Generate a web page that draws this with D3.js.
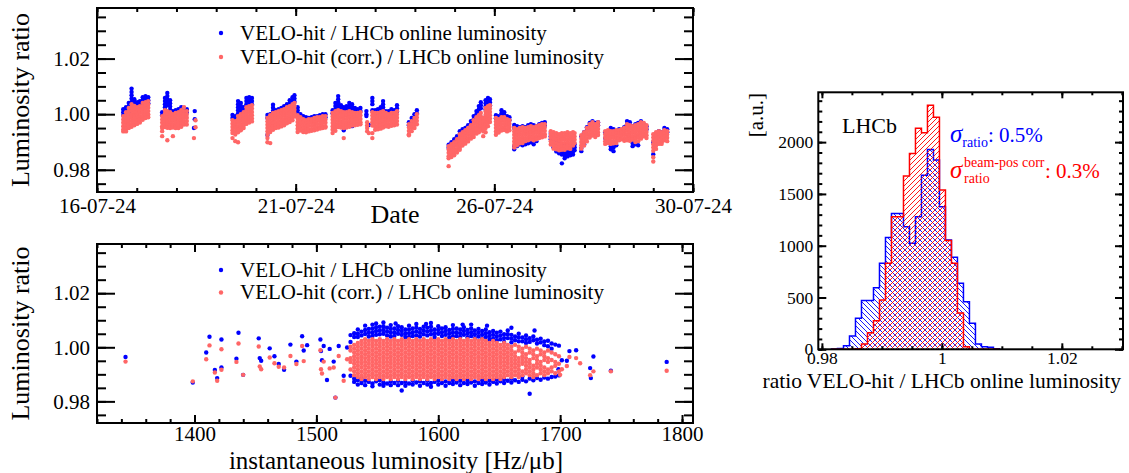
<!DOCTYPE html>
<html><head><meta charset="utf-8">
<script src="https://cdn.jsdelivr.net/npm/d3@7"></script>
<style>body{margin:0;background:#fff}svg{display:block}text{font-family:"Liberation Serif","Times New Roman",serif}</style>
</head><body><svg id="c" width="1129" height="473"></svg>
<script>
// ---------------- DATA ----------------
// Top panel: [day of July 2024, ratio values...] per time column
const topBlue = [
[16.66,1.0018,1.0007,.9996],[16.73,1.0025,1.0014,1.0003],[16.80,1.0040,1.0029,1.0018,1.0007],[16.87,1.0092,1.0080,1.0068,1.0056,1.0044,1.0033],[16.94,1.0054,1.0043,1.0032],[17.01,1.0043,1.0032,1.0021],[17.08,1.0047,1.0036,1.0025],[17.15,1.0061,1.0050,1.0038,1.0027],[17.22,1.0065,1.0054,1.0043],[17.29,1.0061,1.0050,1.0039],
[17.64,1.0007,.9996],[17.71,1.0058,1.0047,1.0036,1.0025,1.0014],[17.77,1.0076,1.0065,1.0054,1.0043,1.0032],[17.84,1.0050,1.0039,1.0028,1.0017],[17.91,1.0011,1.0000],[17.98,1.0014,1.0003],[18.05,1.0018,1.0007],[18.12,1.0025,1.0014],[18.19,1.0022,1.0011],[18.26,1.0018,1.0007],
[18.46,1.0011,.9982],[18.44,.9950],
[19.41,.9997,.9986],[19.48,.9993,.9982],[19.55,1.0047,1.0036,1.0025,1.0014,1.0003],[19.62,1.0040,1.0029,1.0018,1.0007],[19.69,1.0025,1.0014,1.0003],[19.76,1.0058,1.0047,1.0036,1.0025],[19.83,1.0061,1.0050,1.0039],[19.90,1.0058,1.0047,1.0036],
[20.29,.9997,.9986,.9925],[20.36,1.0000,.9989],[20.43,1.0034,1.0023,1.0012,1.0001],[20.50,1.0014,1.0003],[20.57,1.0018,1.0007],[20.64,1.0022,1.0011],[20.71,1.0029,1.0018],[20.78,1.0036,1.0025,1.0014],[20.85,1.0050,1.0039,1.0028],[20.92,1.0061,1.0050,1.0039],[20.97,1.0068,1.0056,1.0045],
[21.05,1.0025,1.0014,1.0003],[21.12,1.0000,.9989],[21.19,.9993,.9982],[21.26,.9989,.9978],[21.33,.9986,.9975],[21.40,.9989,.9978],[21.47,.9993,.9982],[21.54,.9993,.9982],[21.61,.9996,.9985],[21.68,1.0000,.9989],[21.75,1.0000,.9989],
[21.93,1.0014,1.0003],[22.00,1.0040,1.0029,1.0018],[22.07,1.0065,1.0054,1.0043,1.0032,1.0021],[22.14,1.0032,1.0021,1.0010],[22.21,1.0025,1.0014,.9942],[22.28,1.0029,1.0018,1.0007],[22.35,1.0040,1.0029,1.0018],[22.42,1.0036,1.0025,1.0014,.9957],[22.49,1.0022,1.0011],[22.56,1.0018,1.0007],[22.63,1.0022,1.0011],
[22.78,1.0011,1.0000,.9993],[22.84,.9961],
[22.93,1.0058,1.0047,1.0036,1.0014],[23.00,1.0014,1.0003],[23.07,1.0018,1.0007],[23.14,1.0025,1.0014],[23.20,1.0047,1.0036,1.0025,1.0014],[23.27,1.0011,1.0000],[23.34,1.0011,1.0000],[23.41,1.0018,1.0007],[23.48,1.0014,1.0003],[23.55,1.0032,1.0021,1.0010],
[23.85,.9971,.9960],[23.92,.9986,.9975],[23.99,1.0000,.9989],[24.05,1.0014,1.0003],
[24.85,.9890,.9879],[24.92,.9899,.9888],[24.99,.9910,.9899],[25.06,.9921,.9910],[25.13,.9939,.9928],[25.20,.9946,.9935],[25.27,.9950,.9939],[25.34,.9960,.9949],[25.41,.9975,.9964],[25.48,.9993,.9982,.9971],[25.55,1.0011,1.0000,.9989],[25.61,1.0029,1.0018,1.0007],[25.66,1.0043,1.0032,1.0021],[25.72,.9986,.9975],[25.78,1.0050,1.0039,1.0028,1.0017],[25.84,1.0058,1.0047,1.0036,1.0025],[25.89,1.0054,1.0043,1.0032],
[26.04,.9996,.9985],[26.11,.9993,.9982],[26.18,1.0014,1.0003,.9992],[26.25,1.0007,.9996],[26.32,.9993,.9982],[26.38,.9989,.9978],
[26.50,.9961,.9950,.9885,.9874],[26.57,.9957,.9946,.9885],[26.64,.9953,.9942,.9892],[26.71,.9957,.9946,.9888],[26.78,.9953,.9942,.9892],[26.85,.9960,.9949,.9895],[26.92,.9964,.9953,.9899],[26.99,.9960,.9949,.9892],[27.06,.9957,.9946,.9903],[27.13,.9964,.9953],[27.20,.9968,.9957],[27.27,.9971,.9960],
[27.42,.9932,.9921,.9910],[27.49,.9903,.9892,.9881],[27.56,.9899,.9888,.9877,.9866],[27.63,.9892,.9881,.9870,.9859],[27.70,.9888,.9877,.9866,.9855,.9823],[27.77,.9885,.9874,.9863,.9852,.9841],[27.84,.9881,.9870,.9859,.9848],[27.91,.9885,.9874,.9863,.9852],[27.98,.9888,.9877,.9866,.9855],[28.02,.9892,.9881,.9870],
[28.19,.9921,.9878,.9867],[28.26,.9935,.9892],[28.33,.9953,.9942],[28.40,.9968,.9957],[28.47,.9975,.9964],[28.54,.9968,.9957],[28.61,.9971,.9960],
[28.79,.9935,.9914],[28.86,.9928,.9903],[28.93,.9950,.9885,.9874],[29.00,.9946,.9881,.9867],[29.07,.9935,.9888],[29.14,.9946,.9935],[29.20,.9942,.9931],
[29.27,.9953,.9942],[29.34,.9975,.9964],[29.41,.9971,.9960],[29.48,.9957,.9896,.9885],[29.55,.9964,.9892],[29.62,.9968,.9888],[29.69,.9975,.9964],[29.76,.9964,.9953],[29.83,.9957,.9946],
[30.00,.9899,.9856],[30.07,.9928,.9917],[30.14,.9939,.9928],[30.21,.9935,.9924],[30.28,.9950,.9939],[30.35,.9946,.9935]
];
const topPink = [
[16.66,.9993,.9981,.9969,.9957,.9945,.9938],[16.73,1.0007,.9995,.9983,.9971,.9959,.9947,.9938],[16.80,1.0022,1.0010,.9998,.9986,.9974,.9962,.9950],[16.87,1.0036,1.0024,1.0012,1.0000,.9988,.9976,.9964,.9955],[16.94,1.0030,1.0018,1.0006,.9994,.9982,.9970,.9960],[17.01,1.0025,1.0013,1.0001,.9989,.9977,.9965],[17.08,1.0029,1.0017,1.0005,.9993,.9981,.9970],[17.15,1.0040,1.0028,1.0016,1.0004,.9992,.9980],[17.22,1.0043,1.0031,1.0019,1.0007,.9995,.9986],[17.29,1.0047,1.0035,1.0023,1.0011,.9999,.9989],
[17.64,.9993,.9981,.9969,.9957,.9950,.9939,.9921],[17.71,1.0014,1.0002,.9990,.9978,.9966,.9954],[17.77,1.0011,.9999,.9987,.9975,.9963,.9951,.9906],[17.84,1.0007,.9995,.9983,.9971,.9959,.9950],[17.91,1.0000,.9988,.9976,.9964,.9952,.9921],[17.98,1.0004,.9992,.9980,.9968,.9956,.9950],[18.05,1.0007,.9995,.9983,.9971,.9959,.9950],[18.12,1.0014,1.0002,.9990,.9978,.9966,.9955],[18.19,1.0025,1.0011,.9999,.9987,.9975,.9963],[18.26,1.0011,.9999,.9987,.9975,.9963],
[18.48,.9978,.9953],[18.44,.9914],
[19.41,.9978,.9966,.9954,.9942,.9932,.9914],[19.48,.9975,.9963,.9951,.9939,.9927,.9903],[19.55,.9993,.9981,.9969,.9957,.9945,.9935,.9899],[19.62,1.0000,.9988,.9976,.9964,.9952,.9942],[19.69,1.0007,.9995,.9983,.9971,.9959,.9950],[19.76,1.0025,1.0013,1.0001,.9989,.9977,.9965],[19.83,1.0029,1.0017,1.0005,.9993,.9981,.9970],[19.90,1.0032,1.0020,1.0008,.9996,.9984,.9974],
[20.29,.9986,.9974,.9962,.9950,.9938,.9926,.9914,.9899],[20.36,.9996,.9984,.9972,.9960,.9948,.9936,.9896],[20.43,1.0004,.9992,.9980,.9968,.9956,.9944],[20.50,1.0007,.9995,.9983,.9971,.9959,.9950],[20.57,1.0011,.9999,.9987,.9975,.9963,.9952],[20.64,1.0014,1.0002,.9990,.9978,.9966,.9956],[20.71,1.0018,1.0006,.9994,.9982,.9970,.9960],[20.78,1.0025,1.0013,1.0001,.9989,.9977,.9967],[20.85,1.0029,1.0017,1.0005,.9993,.9981,.9972],[20.92,1.0036,1.0024,1.0012,1.0000,.9988,.9978],[20.97,1.0040,1.0028,1.0016,1.0004,.9992],
[21.05,.9996,.9984,.9972,.9960,.9948,.9936],[21.12,.9989,.9977,.9965,.9953,.9941],[21.19,.9982,.9970,.9958,.9946,.9936],[21.26,.9978,.9966,.9954,.9942,.9935],[21.33,.9982,.9970,.9958,.9946,.9938],[21.40,.9982,.9970,.9958,.9946,.9940],[21.47,.9986,.9974,.9962,.9950,.9942],[21.54,.9989,.9977,.9965,.9953,.9945],[21.61,.9989,.9977,.9965,.9953,.9948],[21.68,.9993,.9981,.9969,.9957,.9950],[21.75,.9993,.9981,.9969,.9957,.9952],
[21.93,1.0004,.9992,.9980,.9968,.9956,.9944,.9932],[22.00,1.0011,.9999,.9987,.9975,.9963,.9951,.9940],[22.07,1.0014,1.0002,.9990,.9978,.9966,.9954],[22.14,1.0011,.9999,.9987,.9975,.9963,.9952],[22.21,1.0007,.9995,.9983,.9971,.9959,.9950,.9914],[22.28,1.0007,.9995,.9983,.9971,.9959,.9952],[22.35,1.0011,.9999,.9987,.9975,.9963,.9955],[22.42,1.0007,.9995,.9983,.9971,.9959],[22.49,1.0004,.9992,.9980,.9968,.9960],[22.56,1.0004,.9992,.9980,.9968,.9962],[22.63,1.0007,.9995,.9983,.9971,.9964],
[22.80,.9971,.9960,.9950,.9939],[22.84,.9932],
[22.93,1.0007,.9995,.9983,.9971,.9959,.9932,.9914],[23.00,1.0004,.9992,.9980,.9968,.9956,.9944],[23.07,1.0004,.9992,.9980,.9968,.9956,.9946],[23.14,1.0007,.9995,.9983,.9971,.9959,.9948],[23.20,1.0011,.9999,.9987,.9975,.9963,.9952],[23.27,1.0004,.9992,.9980,.9968,.9956],[23.34,1.0000,.9988,.9976,.9964,.9955],[23.41,1.0004,.9992,.9980,.9968,.9958],[23.48,1.0004,.9992,.9980,.9968,.9960],[23.55,1.0011,.9999,.9987,.9975,.9963],
[23.85,.9964,.9952,.9940,.9928,.9924],[23.92,.9975,.9963,.9951,.9939],[23.99,.9986,.9974,.9962,.9950],[24.05,1.0000,.9988,.9976,.9964],
[24.85,.9885,.9873,.9861,.9849,.9841,.9813],[24.92,.9892,.9880,.9868,.9856,.9846],[24.99,.9899,.9887,.9875,.9863,.9852],[25.06,.9910,.9898,.9886,.9874,.9862],[25.13,.9928,.9916,.9904,.9892,.9880,.9872],[25.20,.9935,.9923,.9911,.9899,.9887],[25.27,.9942,.9930,.9918,.9906,.9894],[25.34,.9950,.9938,.9926,.9914,.9902],[25.41,.9960,.9948,.9936,.9924,.9912],[25.48,.9978,.9966,.9954,.9942,.9930,.9918],[25.55,.9989,.9977,.9965,.9953,.9941,.9930],[25.61,.9996,.9984,.9972,.9960,.9948,.9935],[25.66,1.0004,.9992,.9980,.9968,.9956,.9944],[25.72,.9986,.9974,.9962,.9950,.9938,.9921],[25.78,1.0022,1.0010,.9998,.9986,.9974,.9962,.9950,.9935],[25.84,1.0029,1.0017,1.0005,.9993,.9981,.9969,.9957],[25.89,1.0032,1.0020,1.0008,.9996,.9984,.9972],
[26.04,.9986,.9974,.9962,.9950,.9938,.9926],[26.11,.9982,.9970,.9958,.9946,.9934],[26.18,.9989,.9977,.9965,.9953,.9941],[26.25,.9989,.9977,.9965,.9953,.9943],[26.32,.9982,.9970,.9958,.9946,.9938],[26.38,.9978,.9966,.9954,.9942],
[26.50,.9950,.9938,.9926,.9914,.9902,.9890,.9880],[26.57,.9946,.9934,.9922,.9910,.9898,.9888],[26.64,.9950,.9938,.9926,.9914,.9902,.9895],[26.71,.9953,.9941,.9929,.9917,.9905,.9896],[26.78,.9950,.9938,.9926,.9914,.9903],[26.85,.9953,.9941,.9929,.9917,.9906],[26.92,.9957,.9945,.9933,.9921,.9910],[26.99,.9953,.9941,.9929,.9917,.9906],[27.06,.9957,.9945,.9933,.9921,.9910],[27.13,.9960,.9948,.9936,.9924,.9914],[27.20,.9964,.9952,.9940,.9928,.9917],[27.27,.9964,.9952,.9940,.9928,.9920],
[27.42,.9939,.9927,.9915,.9903,.9891],[27.49,.9935,.9923,.9911,.9899,.9887,.9876],[27.56,.9932,.9920,.9908,.9896,.9884,.9874],[27.63,.9928,.9916,.9904,.9892,.9880,.9870],[27.70,.9932,.9920,.9908,.9896,.9884,.9872],[27.77,.9932,.9920,.9908,.9896,.9884,.9872],[27.84,.9935,.9923,.9911,.9899,.9887,.9877],[27.91,.9932,.9920,.9908,.9896,.9884,.9875],[27.98,.9935,.9923,.9911,.9899,.9887],[28.02,.9932,.9920,.9908,.9896],
[28.19,.9924,.9912,.9900,.9888,.9876],[28.26,.9935,.9923,.9911,.9899,.9887],[28.33,.9950,.9938,.9926,.9914,.9902],[28.40,.9964,.9952,.9940,.9928,.9916],[28.47,.9971,.9959,.9947,.9935,.9923],[28.54,.9964,.9952,.9940,.9928,.9918],[28.61,.9971,.9959,.9947,.9935,.9925],
[28.79,.9939,.9927,.9915,.9903,.9893],[28.86,.9942,.9930,.9918,.9906,.9896],[28.93,.9939,.9927,.9915,.9903,.9893],[29.00,.9939,.9927,.9915,.9903,.9895],[29.07,.9942,.9930,.9918,.9906,.9896],[29.14,.9942,.9930,.9918,.9906],[29.20,.9946,.9934,.9922,.9910],
[29.27,.9950,.9938,.9926,.9914,.9904],[29.34,.9964,.9952,.9940,.9928,.9916,.9906],[29.41,.9960,.9948,.9936,.9924,.9912,.9904],[29.48,.9957,.9945,.9933,.9921,.9909],[29.55,.9960,.9948,.9936,.9924,.9912,.9900],[29.62,.9964,.9952,.9940,.9928,.9916,.9903],[29.69,.9971,.9959,.9947,.9935,.9923,.9912],[29.76,.9968,.9956,.9944,.9932,.9920],[29.83,.9960,.9948,.9936,.9924,.9914],
[30.00,.9928,.9916,.9904,.9892,.9880,.9868,.9845,.9830],[30.07,.9935,.9923,.9911,.9899,.9887,.9875],[30.14,.9939,.9927,.9915,.9903,.9893],[30.21,.9935,.9923,.9911,.9899,.9893],[30.28,.9942,.9930,.9918,.9906],[30.35,.9939,.9927,.9915,.9903]
];
const dateTickValues = [16, 21, 26, 31];
const dateTickLabels = ["16-07-24", "21-07-24", "26-07-24", "30-07-24"];

// Bottom panel: [instantaneous luminosity Hz/ub, ratio values...]
const botBlue = [
[1343.4,.9964],[1398.6,.9870],[1409.6,.9981],[1412.3,1.0039],[1416.7,.9916],[1418.6,.9886],[1422.1,1.0029,.9925],[1434.4,.9958],[1436.1,1.0054],[1439.9,.9898],[1452.7,1.0033],[1453.5,.9960],[1454.7,.9950],[1461.7,.9996],[1465.6,.9967],[1469.1,.9938],[1473.5,.9917],[1478.7,1.0010],[1483.6,.9947],[1488.3,1.0041],[1489.6,.9988],[1492.4,1.0008],[1503.3,1.0029],[1503.8,.9986],[1504.6,.9952],[1506.0,1.0005],[1508.7,.9879],[1510.9,.9994],[1514.2,.9947],[1515.6,.9814],[1518.3,1.0005],[1522.4,.9895],[1525.2,.9999],
[1528,1.0045,1.0020,.9895],[1531,1.0052,1.0038,.9872,.9884],[1534,1.0066,1.0050,1.0038,.9878,.9862],[1537,1.0058,1.0044,.9868,.9884],[1540,1.0080,1.0064,1.0049,.9860,.9876],[1543,1.0068,1.0054,1.0040,.9872],[1546,1.0084,1.0070,1.0056,1.0042,.9866,.9856],[1549,1.0088,1.0074,1.0060,1.0046,.9874],[1552,1.0076,1.0062,1.0048,.9862,.9878],[1555,1.0092,1.0078,1.0064,1.0050,.9870,.9858],[1558,1.0072,1.0058,1.0044,.9866],[1561,1.0082,1.0068,1.0054,1.0040,.9874,.9860],[1564,1.0070,1.0056,1.0042,.9868],[1567,1.0078,1.0064,1.0050,.9860,.9876],[1570,1.0074,1.0060,1.0046,.9840,.9868],[1573,1.0066,1.0052,1.0038,.9872,.9858],[1576,1.0080,1.0066,1.0052,1.0038,.9866],[1579,1.0070,1.0056,1.0042,.9862,.9876],[1582,1.0086,1.0072,1.0058,1.0044,.9870],[1585,1.0068,1.0054,1.0040,.9858,.9874],[1588,1.0076,1.0062,1.0048,.9868],[1591,1.0072,1.0058,1.0044,.9862,.9876],[1594,1.0090,1.0076,1.0062,1.0048,.9868,.9854],[1597,1.0066,1.0052,1.0038,.9872],[1600,1.0078,1.0064,1.0050,.9862,.9876],[1603,1.0070,1.0056,1.0042,.9868],[1606,1.0074,1.0060,1.0046,.9858,.9874],[1609,1.0064,1.0050,1.0036,.9868],[1612,1.0082,1.0068,1.0054,1.0040,.9864,.9878],[1615,1.0070,1.0056,1.0042,.9870],[1618,1.0066,1.0052,1.0038,.9860,.9876],[1621,1.0074,1.0060,1.0046,.9868],[1624,1.0064,1.0050,1.0036,.9864,.9878],[1627,1.0084,1.0070,1.0056,1.0042,.9870],[1630,1.0062,1.0048,1.0034,.9858,.9874],[1633,1.0068,1.0054,1.0040,.9868],[1636,1.0060,1.0046,1.0032,.9864,.9878],[1639,1.0066,1.0052,1.0038,.9870],[1642,1.0056,1.0042,1.0028,.9862,.9876],[1645,1.0060,1.0046,1.0032,.9872],[1648,1.0054,1.0040,1.0026,.9866,.9880],[1651,1.0058,1.0044,1.0030,.9874],[1654,1.0048,1.0034,1.0020,.9868,.9882],[1657,1.0062,1.0048,1.0034,.9876],[1660,1.0046,1.0032,1.0018,.9870,.9884],[1663,1.0040,1.0026,.9878],[1666,1.0050,1.0036,1.0022,.9872],[1669,1.0036,1.0022,.9880,.9892],[1672,1.0044,1.0030,1.0016,.9874],[1675,1.0034,1.0020,.9828,.9884],[1678,1.0040,1.0026,.9878],[1681,1.0028,1.0014,.9886],[1684,1.0032,1.0018,.9880],[1687,1.0022,1.0008,.9888],[1690,1.0024,1.0004,.9884],[1693,1.0014,.9995,.9890],[1696,1.0010,.9892],[1699,1.0006,.9896],
[1565,1.0088],[1590,1.0086],[1620,1.0084],[1640,1.0080],[1660,1.0072],[1679,1.0062],
[1701.4,.9952],[1698.6,.9919],[1705.5,.9950],[1707.6,.9986],[1713.1,.9989],[1727.3,.9966],[1724.6,.9923],[1725.2,.9886],[1741.6,.9913],[1787.4,.9946]
];
const botPink = [
[1343.4,.9947],[1398.6,.9874],[1409.6,.9956],[1412.3,1.0007],[1418.6,.9876],[1416.7,.9907],[1422.1,.9993,.9917],[1434.4,.9946],[1436.1,1.0014],[1439.9,.9898],[1452.7,1.0003],[1453.5,.9929],[1454.7,.9919],[1461.7,.9962],[1465.6,.9941],[1469.1,.9928],[1473.5,.9925],[1478.7,.9968],[1483.6,.9938],[1488.3,1.0005],[1489.6,.9949],[1503.3,.9989],[1503.8,.9919],[1504.6,.9903],[1506.0,.9947],[1510.9,.9922],[1514.2,.9925],[1515.6,.9814],[1518.3,.9968],[1522.4,.9876],[1525.2,.9956],
[1528,1.0002,.9988,.9960,.9946,.9918],[1531,1.0009,.9995,.9981,.9967,.9953,.9939,.9925,.9911,.9897],[1534,1.0016,1.0002,.9988,.9974,.9960,.9946,.9932,.9918,.9904,.9890],[1537,1.0023,1.0009,.9995,.9981,.9967,.9953,.9939,.9925,.9911,.9897,.9883],
[1540,1.003,1.0016,1.0002,.9988,.9974,.996,.9946,.9932,.9918,.9904,.989],[1543,1.0023,1.0009,.9995,.9981,.9967,.9953,.9939,.9925,.9911,.9897,.9883],[1546,1.003,1.0016,1.0002,.9988,.9974,.996,.9946,.9932,.9918,.9904,.989],[1549,1.0023,1.0009,.9995,.9981,.9967,.9953,.9939,.9925,.9911,.9897,.9883],[1552,1.003,1.0016,1.0002,.9988,.9974,.996,.9946,.9932,.9918,.9904,.989],[1555,1.0023,1.0009,.9995,.9981,.9967,.9953,.9939,.9925,.9911,.9897,.9883],[1558,1.003,1.0016,1.0002,.9988,.9974,.996,.9946,.9932,.9918,.9904,.989],[1561,1.0023,1.0009,.9995,.9981,.9967,.9953,.9939,.9925,.9911,.9897,.9883],[1564,1.003,1.0016,1.0002,.9988,.9974,.996,.9946,.9932,.9918,.9904,.989],[1567,1.0023,1.0009,.9995,.9981,.9967,.9953,.9939,.9925,.9911,.9897,.9883],[1570,1.003,1.0016,1.0002,.9988,.9974,.996,.9946,.9932,.9918,.9904,.989],[1573,1.0023,1.0009,.9995,.9981,.9967,.9953,.9939,.9925,.9911,.9897,.9883],[1576,1.003,1.0016,1.0002,.9988,.9974,.996,.9946,.9932,.9918,.9904,.989],[1579,1.0023,1.0009,.9995,.9981,.9967,.9953,.9939,.9925,.9911,.9897,.9883],[1582,1.003,1.0016,1.0002,.9988,.9974,.996,.9946,.9932,.9918,.9904,.989],[1585,1.0023,1.0009,.9995,.9981,.9967,.9953,.9939,.9925,.9911,.9897,.9883],[1588,1.003,1.0016,1.0002,.9988,.9974,.996,.9946,.9932,.9918,.9904,.989],[1591,1.0023,1.0009,.9995,.9981,.9967,.9953,.9939,.9925,.9911,.9897,.9883],[1594,1.003,1.0016,1.0002,.9988,.9974,.996,.9946,.9932,.9918,.9904,.989],[1597,1.0023,1.0009,.9995,.9981,.9967,.9953,.9939,.9925,.9911,.9897,.9883],[1600,1.003,1.0016,1.0002,.9988,.9974,.996,.9946,.9932,.9918,.9904,.989],[1603,1.0023,1.0009,.9995,.9981,.9967,.9953,.9939,.9925,.9911,.9897,.9883],[1606,1.003,1.0016,1.0002,.9988,.9974,.996,.9946,.9932,.9918,.9904,.989],[1609,1.0023,1.0009,.9995,.9981,.9967,.9953,.9939,.9925,.9911,.9897,.9883],[1612,1.003,1.0016,1.0002,.9988,.9974,.996,.9946,.9932,.9918,.9904,.989],[1615,1.0023,1.0009,.9995,.9981,.9967,.9953,.9939,.9925,.9911,.9897,.9883],[1618,1.003,1.0016,1.0002,.9988,.9974,.996,.9946,.9932,.9918,.9904,.989],[1621,1.0023,1.0009,.9995,.9981,.9967,.9953,.9939,.9925,.9911,.9897,.9883],[1624,1.003,1.0016,1.0002,.9988,.9974,.996,.9946,.9932,.9918,.9904,.989],[1627,1.0023,1.0009,.9995,.9981,.9967,.9953,.9939,.9925,.9911,.9897,.9883],[1630,1.003,1.0016,1.0002,.9988,.9974,.996,.9946,.9932,.9918,.9904,.989],[1633,1.0023,1.0009,.9995,.9981,.9967,.9953,.9939,.9925,.9911,.9897,.9883],[1636,1.003,1.0016,1.0002,.9988,.9974,.996,.9946,.9932,.9918,.9904,.989],[1639,1.0023,1.0009,.9995,.9981,.9967,.9953,.9939,.9925,.9911,.9897,.9883],
[1642,1.0016,1.0002,.9988,.9974,.996,.9946,.9932,.9918,.9904,.989],[1645,1.0023,1.0009,.9995,.9981,.9967,.9953,.9939,.9925,.9911,.9897,.9883],[1648,1.0016,1.0002,.9988,.9974,.996,.9946,.9932,.9918,.9904,.989],[1651,1.0009,.9995,.9981,.9967,.9953,.9939,.9925,.9911,.9897,.9883],[1654,1.0016,1.0002,.9988,.9974,.996,.9946,.9932,.9918,.9904,.989],[1657,1.0009,.9995,.9981,.9967,.9953,.9939,.9925,.9911,.9897],[1660,1.0002,.9988,.9974,.996,.9946,.9932,.9918,.9904,.989],[1663,1.0009,.9981,.9967,.9953,.9939,.9925,.9911,.9897],[1666,1.0002,.9988,.996,.9946,.9932,.9918,.9904,.989],[1669,.9995,.9981,.9967,.9953,.9939,.9911,.9897],[1672,1.0002,.9974,.996,.9946,.9932,.9918,.9904],[1675,.9995,.9981,.9953,.9939,.9925,.9911,.9897],[1678,.9988,.9974,.996,.9932,.9918,.9904,.989],[1681,.9995,.9967,.9953,.9939,.9925,.9897],[1684,.9988,.9974,.9946,.9932,.9918,.9904],[1687,.9981,.9967,.9953,.9925,.9911,.9897],[1690,.9988,.996,.9946,.9918,.9904],[1693,.9981,.9953,.9925,.9911],[1696,.9974,.9946,.9932,.9904],[1699,.9967,.9939,.9911],
[1707.6,.9964],[1713.1,.9960],[1716.4,.9941],[1705.5,.9931],[1724.6,.9897],[1727.3,.9911],[1741.6,.9911],[1787.4,.9913],[1700,.9898],[1701.4,.9919]
];
const lumiTicks = [1400, 1500, 1600, 1700, 1800];
const ratioTicks = [0.98, 1.00, 1.02];

// Histogram of ratio (bin width 0.001 starting at histStart)
const histStart = 0.9816;
const histWidth = 0.001;
const histBlue = [4,8,35,128,300,470,470,595,830,1080,1312,1312,1183,1023,1280,1680,1930,1827,1376,1055,888,637,460,251,51,25,19,6];
const histRed  = [0,0,0,0,5,51,160,276,476,830,1280,1280,1672,1891,2133,2090,2357,2239,1537,1050,830,350,25,0,0,0,0,0];
const histXTicks = [0.98, 1.00, 1.02];
const histXLabels = ["0.98", "1", "1.02"];
const histYTicks = [0, 500, 1000, 1500, 2000];

const legendLabels = ["VELO-hit / LHCb online luminosity", "VELO-hit (corr.) / LHCb online luminosity"];

// ---------------- DRAW ----------------
const BLUE = "#0000ff", PINK = "#ff6666", RED = "#ff0000";
const R = 2.2;
const FONT = '"Liberation Serif","Times New Roman",serif';
const svg = d3.select("#c");

function frame(g, x, y, o) {
  const [x0, x1] = x.range(), [y0, y1] = y.range();
  const mk = (axis, tv, len, fmt, pad, tr) => {
    const a = g.append("g").attr("transform", tr)
      .call(axis.tickValues(tv).tickSize(-len).tickPadding(pad).tickFormat(fmt || (() => "")));
    a.select(".domain").remove();
    a.selectAll("line").attr("stroke", "#000").attr("stroke-width", o.tw || 2);
    a.selectAll("text").attr("font-family", FONT).attr("font-size", o.fs).attr("fill", "#000");
  };
  mk(d3.axisBottom(x), o.xMinor, o.xMinLen, null, 0, `translate(0,${y0})`);
  mk(d3.axisBottom(x), o.xMajor, o.xMajLen, o.xFmt, o.xPad, `translate(0,${y0})`);
  mk(d3.axisTop(x), o.xMinor, o.xMinLen, null, 0, `translate(0,${y1})`);
  mk(d3.axisTop(x), o.xMajor, o.xMajLen, null, 0, `translate(0,${y1})`);
  mk(d3.axisLeft(y), o.yMinor, o.yMinLen, null, 0, `translate(${x0},0)`);
  mk(d3.axisLeft(y), o.yMajor, o.yMajLen, o.yFmt, o.yPad, `translate(${x0},0)`);
  mk(d3.axisRight(y), o.yMinor, o.yMinLen, null, 0, `translate(${x1},0)`);
  mk(d3.axisRight(y), o.yMajor, o.yMajLen, null, 0, `translate(${x1},0)`);
  g.append("rect").attr("x", x0).attr("y", y1).attr("width", x1 - x0).attr("height", y0 - y1)
    .attr("fill", "none").attr("stroke", "#000").attr("stroke-width", 2);
}

function dots(g, cols, x, y, color) {
  const pts = [];
  cols.forEach(c => { for (let i = 1; i < c.length; i++) pts.push([c[0], c[i]]); });
  g.selectAll(null).data(pts).join("circle")
    .attr("cx", d => x(d[0])).attr("cy", d => y(d[1])).attr("r", R).attr("fill", color);
}

function legend(g, yy) {
  [BLUE, PINK].forEach((c, i) => {
    g.append("circle").attr("cx", 221).attr("cy", yy[i]).attr("r", R).attr("fill", c);
    g.append("text").attr("x", 240).attr("y", yy[i] + 6.5).attr("font-family", FONT)
      .attr("font-size", 21).text(legendLabels[i]);
  });
}

function yTitle(g, cx, cy, txt, fs, anchor) {
  g.append("text").attr("transform", `translate(${cx},${cy}) rotate(-90)`)
    .attr("text-anchor", anchor || "middle").attr("font-family", FONT).attr("font-size", fs).text(txt);
}

const ratioMinor = d3.range(0.975, 1.0381, 0.005);

// ---- top panel
const gT = svg.append("g");
const xT = d3.scaleLinear().domain([16, 31]).range([97, 693]);
const yT = d3.scaleLinear().domain([0.972, 1.0382]).range([192, 8]);
dots(gT, topBlue, xT, yT, BLUE);
dots(gT, topPink, xT, yT, PINK);
frame(gT, xT, yT, {
  xMajor: dateTickValues, xMinor: d3.range(16, 31.01, 1), xMajLen: 8, xMinLen: 4,
  xFmt: (d, i) => dateTickLabels[i], xPad: 6,
  yMajor: ratioTicks, yMinor: ratioMinor, yMajLen: 18, yMinLen: 9, yFmt: d3.format(".2f"), yPad: 7, fs: 21
});
legend(gT, [33, 57]);
gT.append("text").attr("x", 395).attr("y", 223).attr("text-anchor", "middle")
  .attr("font-family", FONT).attr("font-size", 26).text("Date");
yTitle(gT, 29, 100, "Luminosity ratio", 26);

// ---- bottom panel
const gB = svg.append("g");
const xB = d3.scaleLinear().domain([1320, 1809]).range([97, 693]);
const yB = d3.scaleLinear().domain([0.972, 1.0382]).range([423, 244]);
dots(gB, botBlue, xB, yB, BLUE);
dots(gB, botPink, xB, yB, PINK);
frame(gB, xB, yB, {
  xMajor: lumiTicks, xMinor: d3.range(1320, 1809, 20), xMajLen: 8, xMinLen: 4,
  xFmt: d3.format("d"), xPad: 3,
  yMajor: ratioTicks, yMinor: ratioMinor, yMajLen: 18, yMinLen: 9, yFmt: d3.format(".2f"), yPad: 7, fs: 21
});
legend(gB, [270, 292.5]);
gB.append("text").attr("x", 396).attr("y", 469).attr("text-anchor", "middle")
  .attr("font-family", FONT).attr("font-size", 25).text("instantaneous luminosity [Hz/μb]");
yTitle(gB, 29, 333.5, "Luminosity ratio", 26);

// ---- histogram panel
const gH = svg.append("g");
const xH = d3.scaleLinear().domain([0.9794, 1.0302]).range([818.3, 1123]);
const yH = d3.scaleLinear().domain([0, 2481]).range([349.3, 92.3]);
const defs = svg.append("defs");
defs.append("pattern").attr("id", "hb").attr("patternUnits", "userSpaceOnUse").attr("width", 5).attr("height", 5)
  .append("path").attr("d", "M-1,-1L6,6M-1,4L1,6M4,-1L6,1").attr("stroke", BLUE).attr("stroke-width", 0.9);
defs.append("pattern").attr("id", "hr").attr("patternUnits", "userSpaceOnUse").attr("width", 5).attr("height", 5)
  .append("path").attr("d", "M-1,6L6,-1M-1,1L1,-1M4,6L6,4").attr("stroke", RED).attr("stroke-width", 0.9);
gH.append("clipPath").attr("id", "hclip").append("rect")
  .attr("x", 818.3).attr("y", 92.3).attr("width", 1123 - 818.3).attr("height", 349.3 - 92.3);
function histPath(counts) {
  const pts = [[histStart, 0]];
  counts.forEach((c, i) => {
    pts.push([histStart + i * histWidth, c]);
    pts.push([histStart + (i + 1) * histWidth, c]);
  });
  pts.push([histStart + counts.length * histWidth, 0]);
  return d3.line().x(d => xH(d[0])).y(d => yH(d[1]))(pts);
}
const hg = gH.append("g").attr("clip-path", "url(#hclip)");
hg.append("path").attr("d", histPath(histBlue)).attr("fill", "url(#hb)").attr("stroke", BLUE).attr("stroke-width", 1.5);
hg.append("path").attr("d", histPath(histRed)).attr("fill", "url(#hr)").attr("stroke", RED).attr("stroke-width", 1.5);
frame(gH, xH, yH, {
  xMajor: histXTicks, xMinor: d3.range(0.98, 1.0302, 0.005), xMajLen: 6, xMinLen: 3,
  xFmt: (d, i) => histXLabels[i], xPad: 2,
  yMajor: histYTicks, yMinor: d3.range(0, 2481, 100), yMajLen: 8, yMinLen: 4, yFmt: d3.format("d"), yPad: 5, fs: 17.5
});
gH.append("text").attr("x", 1121).attr("y", 388).attr("text-anchor", "end")
  .attr("font-family", FONT).attr("font-size", 21.5).text("ratio VELO-hit / LHCb online luminosity");
yTitle(gH, 763, 93, "[a.u.]", 21, "end");
gH.append("text").attr("x", 842).attr("y", 132.5).attr("font-family", FONT).attr("font-size", 22).text("LHCb");
const s1 = gH.append("text").attr("x", 950).attr("y", 142).attr("font-family", FONT).attr("fill", BLUE);
s1.append("tspan").attr("font-size", 25).attr("font-style", "italic").text("σ");
s1.append("tspan").attr("font-size", 14).attr("dy", 5).text("ratio");
s1.append("tspan").attr("font-size", 21).attr("dy", -5).text(": 0.5%");
gH.append("text").attr("x", 950).attr("y", 178).attr("font-family", FONT).attr("fill", RED)
  .attr("font-size", 25).attr("font-style", "italic").text("σ");
gH.append("text").attr("x", 964).attr("y", 167).attr("font-family", FONT).attr("fill", RED)
  .attr("font-size", 14).text("beam-pos corr");
gH.append("text").attr("x", 964).attr("y", 183).attr("font-family", FONT).attr("fill", RED)
  .attr("font-size", 14).text("ratio");
gH.append("text").attr("x", 1045).attr("y", 178).attr("font-family", FONT).attr("fill", RED)
  .attr("font-size", 21).text(": 0.3%");
</script></body></html>
